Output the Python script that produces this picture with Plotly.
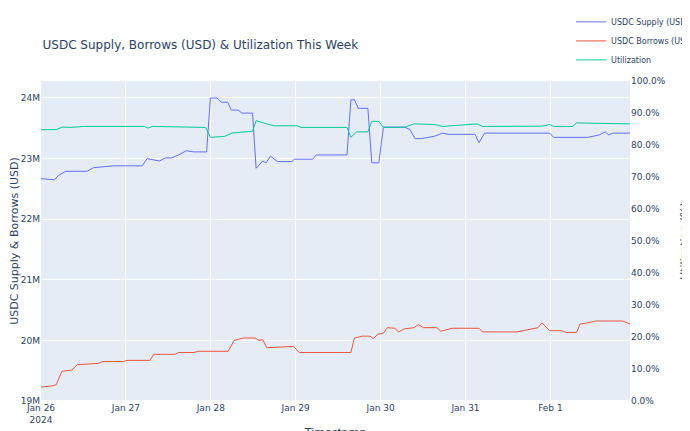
import plotly.graph_objects as go
import pandas as pd

start = pd.Timestamp("2024-01-26 00:00")

supply_h = [0,3.8,4.9,7,13,14.9,20.5,28.6,30,33.5,35.1,36.8,38.9,41.1,43.2,46.8,47.9,49.7,51,52.8,53.8,55.7,56.8,59.8,60.8,62.7,63.6,64.9,66.8,70.8,71.6,76.8,77.8,86.5,87.6,88.6,89.7,92.4,93.5,95.5,96.8,102.7,104.3,105.7,107.6,109.2,111.3,113.5,115.1,122.7,123.8,125.4,143.8,144.9,154.6,157.8,159.5,160.5,161.6,166.5]
supply_v = [22.67,22.65,22.72,22.79,22.79,22.85,22.88,22.88,23.0,22.96,23.01,23.01,23.06,23.13,23.11,23.11,24.0,24.0,23.93,23.93,23.8,23.8,23.75,23.75,22.84,22.96,22.93,23.04,22.95,22.95,22.99,22.99,23.06,23.06,23.97,23.97,23.83,23.83,22.93,22.93,23.52,23.52,23.48,23.33,23.33,23.35,23.37,23.42,23.40,23.40,23.26,23.42,23.42,23.35,23.35,23.39,23.44,23.39,23.42,23.42]

util_h = [0,4.3,6,8.7,12,29.2,30.3,31.4,46.5,47.9,51.9,54,59.8,60.8,63.8,66,72.4,73.5,86.5,87.6,89.2,92.4,93.5,95.5,96.8,102.7,105.4,111.3,113.5,123.2,124.8,141.6,143.8,144.9,150.3,151.4,166.5]
util_v = [84.8,84.8,85.6,85.5,85.8,85.8,85.3,85.8,85.5,82.4,82.7,83.75,84.3,87.6,86.6,86.0,86.0,85.5,85.5,82.4,84.1,84.1,87.4,87.4,85.5,85.5,86.6,86.4,85.8,86.6,85.8,85.9,86.4,85.8,85.8,86.9,86.6]

borrow_h = [0,3.2,4.3,5.9,8.7,10.3,16.2,17.3,23.2,24.3,30.8,31.9,37.8,38.9,43.2,44.3,52.9,54.6,57.3,60.5,61.6,62.7,63.8,71.4,73,87.6,88.6,90.8,93,93.9,95.2,96.8,97.9,100,101.1,102.7,105.4,106.7,108.1,111.9,113,115.1,116.2,123.8,124.8,134.6,136.2,138.4,140.5,141.6,143.8,147,148.6,151.4,152.4,154.6,156.8,164.4,166.5]
borrow_v = [19.23,19.25,19.27,19.49,19.51,19.60,19.62,19.65,19.65,19.67,19.67,19.77,19.77,19.80,19.80,19.82,19.82,20.0,20.04,20.04,20.0,20.01,19.88,19.90,19.80,19.80,20.04,20.07,20.07,20.03,20.10,20.12,20.21,20.20,20.14,20.19,20.21,20.26,20.21,20.21,20.15,20.18,20.20,20.20,20.14,20.14,20.16,20.18,20.21,20.29,20.16,20.16,20.13,20.13,20.27,20.29,20.32,20.32,20.27]

def ts(hs):
    return [start + pd.Timedelta(hours=h) for h in hs]

fig = go.Figure()
fig.add_trace(go.Scatter(x=ts(supply_h), y=[v*1e6 for v in supply_v], name="USDC Supply (USD)",
                         mode="lines", line=dict(color="#636efa", width=1)))
fig.add_trace(go.Scatter(x=ts(borrow_h), y=[v*1e6 for v in borrow_v], name="USDC Borrows (USD)",
                         mode="lines", line=dict(color="#EF553B", width=1)))
fig.add_trace(go.Scatter(x=ts(util_h), y=[v/100 for v in util_v], name="Utilization",
                         mode="lines", line=dict(color="#00cc96", width=1), yaxis="y2"))

fig.update_layout(
    width=690, height=431,
    template="plotly",
    font=dict(family="DejaVu Sans", size=9),
    title=dict(text="USDC Supply, Borrows (USD) & Utilization This Week", x=0.05, y=0.925, font=dict(size=12)),
    margin=dict(l=33, r=68, t=73, b=38, autoexpand=False),
    xaxis=dict(title=dict(text="Timestamp", standoff=6, font=dict(size=11)), automargin=False,
               range=[start, start + pd.Timedelta(hours=166.5)]),
    yaxis=dict(title=dict(text="USDC Supply & Borrows (USD)", font=dict(size=11), standoff=2), automargin=False,
               range=[19e6, 24.28e6], dtick=1e6, tickformat="~s"),
    yaxis2=dict(title=dict(text="Utilization (%)", font=dict(size=11)), overlaying="y", side="right", range=[0, 1],
                dtick=0.1, tickformat=".1%", showgrid=False, automargin=False),
    legend=dict(x=0.9, y=1.23, xanchor="left", yanchor="top", font=dict(size=8), bgcolor="rgba(0,0,0,0)"),
)
fig.write_html("out.html")
